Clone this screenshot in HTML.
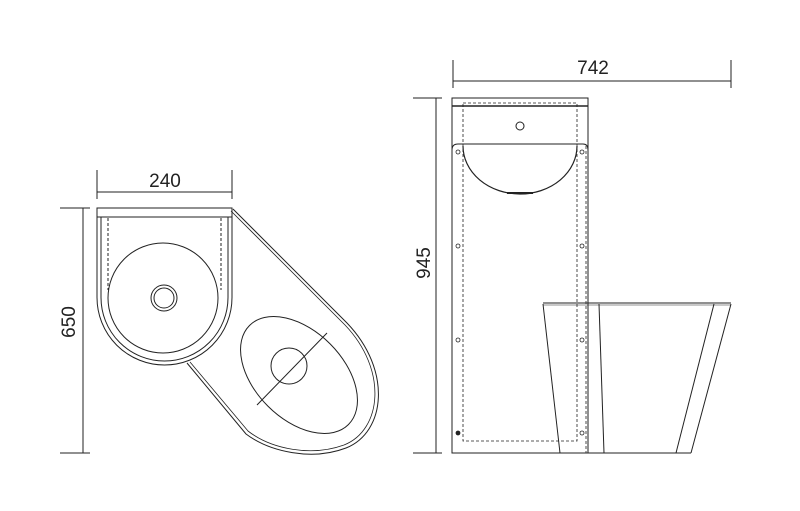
<!DOCTYPE html>
<html><head><style>
html,body{margin:0;padding:0;background:#fff;}
svg{display:block;}
text{font-family:"Liberation Sans",sans-serif;font-size:19px;fill:#222;}
</style></head><body>
<svg width="800" height="511" viewBox="0 0 800 511" xmlns="http://www.w3.org/2000/svg">
<g fill="none" stroke="#222" stroke-width="1">
<!-- left dims -->
<line x1="97" y1="170" x2="97" y2="199"/>
<line x1="232" y1="170" x2="232" y2="199"/>
<line x1="97" y1="192" x2="232" y2="192"/>
<line x1="60" y1="208" x2="90" y2="208"/>
<line x1="60" y1="453" x2="90" y2="453"/>
<line x1="83" y1="208" x2="83" y2="453"/>
<!-- toilet outer (left view) -->
<path d="M233,209 L347,323 C392,370 386,432 346,448 C312,461 270,452 246,434 L187,363"/>
<path d="M231,211 L345,325 C388,370 382,430 344,445 C311,457 271,449 248,431 L190,362" stroke-width="0.8"/>
<!-- bowl -->
<ellipse cx="299" cy="375" rx="70" ry="44" transform="rotate(45 299 375)"/>
<line x1="327" y1="333" x2="257" y2="405"/>
<circle cx="289" cy="366" r="18"/>
<!-- basin top plate -->
<rect x="97" y="208" width="135" height="9"/>
<path d="M97,217 L97,297.5 A67.5,67.5 0 0 0 232,297.5 L232,217"/>
<path d="M101,217 L101,297.5 A63.5,63.5 0 0 0 228,297.5 L228,217"/>
<line x1="108" y1="218" x2="108" y2="290" stroke-dasharray="3,2"/>
<line x1="221" y1="218" x2="221" y2="290" stroke-dasharray="3,2"/>
<circle cx="163" cy="298" r="55"/>
<circle cx="164" cy="298" r="13"/>
<circle cx="164" cy="298" r="10"/>
<!-- right dims -->
<line x1="453" y1="60" x2="453" y2="88"/>
<line x1="731" y1="60" x2="731" y2="88"/>
<line x1="453" y1="81" x2="731" y2="81"/>
<line x1="413" y1="98" x2="442" y2="98"/>
<line x1="413" y1="453" x2="442" y2="453"/>
<line x1="436" y1="98" x2="436" y2="453"/>
<!-- panel -->
<rect x="452" y="98" width="136" height="355"/>
<line x1="452" y1="106" x2="588" y2="106" stroke-width="1.5"/>
<rect x="463" y="103" width="114" height="338" stroke-dasharray="3,2" stroke-width="0.8"/>
<path d="M452,150 Q452,144 458,144 L583,144 Q588,144 588,150"/>
<line x1="586" y1="146" x2="586" y2="453" stroke-dasharray="3,2" stroke-width="0.8"/>
<circle cx="520" cy="126" r="4"/>
<path d="M463,146 A57,48 0 0 0 577,146" stroke-width="1.2"/>
<line x1="507" y1="193" x2="533" y2="193" stroke-width="2"/>
<g stroke-width="0.8">
<circle cx="458" cy="152" r="2"/><circle cx="582" cy="152" r="2"/>
<circle cx="458" cy="246" r="2"/><circle cx="582" cy="246" r="2"/>
<circle cx="458" cy="340" r="2"/><circle cx="582" cy="340" r="2"/>
<circle cx="458" cy="433" r="2" fill="#222"/><circle cx="582" cy="433" r="2"/>
</g>
<!-- toilet side -->
<line x1="543" y1="303" x2="731" y2="303"/>
<line x1="543" y1="305" x2="731" y2="305" stroke-width="0.6"/>
<line x1="543" y1="304" x2="560" y2="453"/>
<line x1="599" y1="304" x2="604" y2="453"/>
<line x1="714" y1="304" x2="676" y2="453"/>
<line x1="731" y1="304" x2="691" y2="453"/>
<line x1="588" y1="453" x2="691" y2="453"/>
</g>
<text x="165" y="187" text-anchor="middle">240</text>
<text x="593" y="74" text-anchor="middle">742</text>
<text transform="translate(75,322) rotate(-90)" text-anchor="middle">650</text>
<text transform="translate(430,263) rotate(-90)" text-anchor="middle">945</text>
</svg>
</body></html>
